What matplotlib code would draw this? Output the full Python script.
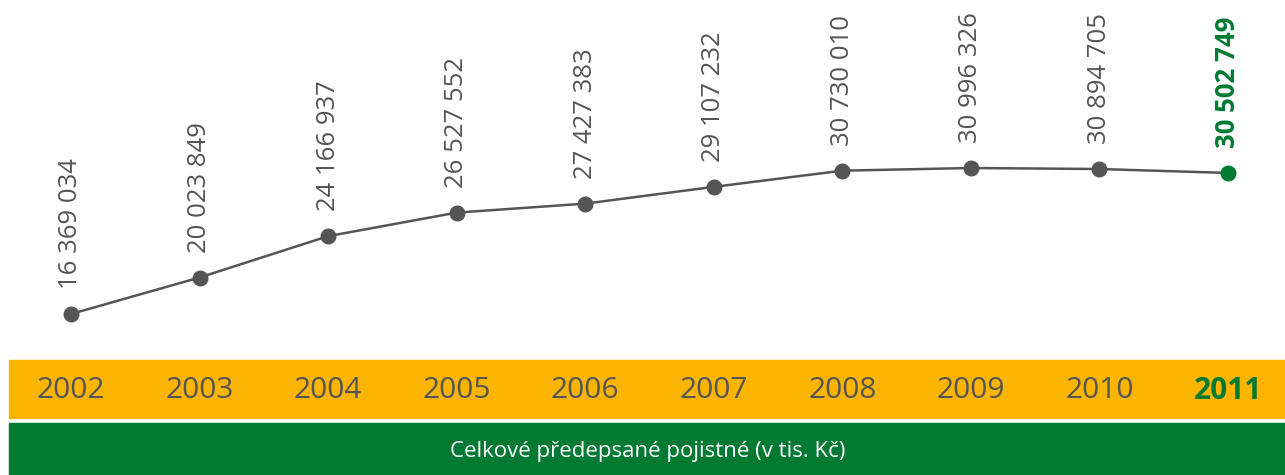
import matplotlib
matplotlib.use('Agg')
import matplotlib.pyplot as plt
from matplotlib.patches import Rectangle
import numpy as np

plt.rcParams['font.family'] = ['Open Sans', 'DejaVu Sans']

years = ['2002', '2003', '2004', '2005', '2006', '2007', '2008', '2009', '2010', '2011']
values = [16369034, 20023849, 24166937, 26527552, 27427383, 29107232,
          30730010, 30996326, 30894705, 30502749]
value_labels = ['16 369 034', '20 023 849', '24 166 937', '26 527 552', '27 427 383',
                '29 107 232', '30 730 010', '30 996 326', '30 894 705', '30 502 749']
caption = 'Celkové předepsané pojistné (v tis. Kč)'

grey = '#555555'
green = '#007A33'
yellow = '#FBB400'

W, H = 1285, 475
fig = plt.figure(figsize=(W / 100, H / 100), dpi=100)

# bands (figure pixel coords, origin top-left)
def px_rect(x0, y0, x1, y1, color):
    fig.patches.append(Rectangle((x0 / W, 1 - y1 / H), (x1 - x0) / W, (y1 - y0) / H,
                                 transform=fig.transFigure, color=color, zorder=0))

px_rect(9, 360, W, 418, yellow)
px_rect(9, 423, W, 475, green)

ax = fig.add_axes([0, 1 - 360 / H, 1, 360 / H])
x = np.arange(len(years))
ax.set_xlim(-0.552, 9.444)
ax.set_ylim(11.76e6, 47.83e6)
ax.axis('off')

ax.plot(x, values, color=grey, lw=1.8, zorder=2)
ax.scatter(x[:-1], values[:-1], s=110, color=grey, zorder=3)
ax.scatter(x[-1:], values[-1:], s=110, color=green, zorder=3)

for i, (v, lab) in enumerate(zip(values, value_labels)):
    last = i == len(values) - 1
    ax.annotate(lab, (x[i], v), xytext=(0, 18), textcoords='offset points',
                rotation=90, ha='center', va='bottom', fontsize=18.5,
                color=green if last else grey,
                fontweight='bold' if last else 'normal')

# year labels in yellow band
for i, yr in enumerate(years):
    last = i == len(years) - 1
    xf = ax.transData.transform((x[i], 0))[0] / fig.bbox.width
    fig.text(xf, 1 - 391 / H, yr, ha='center', va='center', fontsize=21.5,
             color=green if last else grey,
             fontweight='bold' if last else 'normal')

fig.text(648 / W, 1 - 451 / H, caption, ha='center', va='center',
         fontsize=16, color='white')

fig.savefig('out.png', dpi=100)
